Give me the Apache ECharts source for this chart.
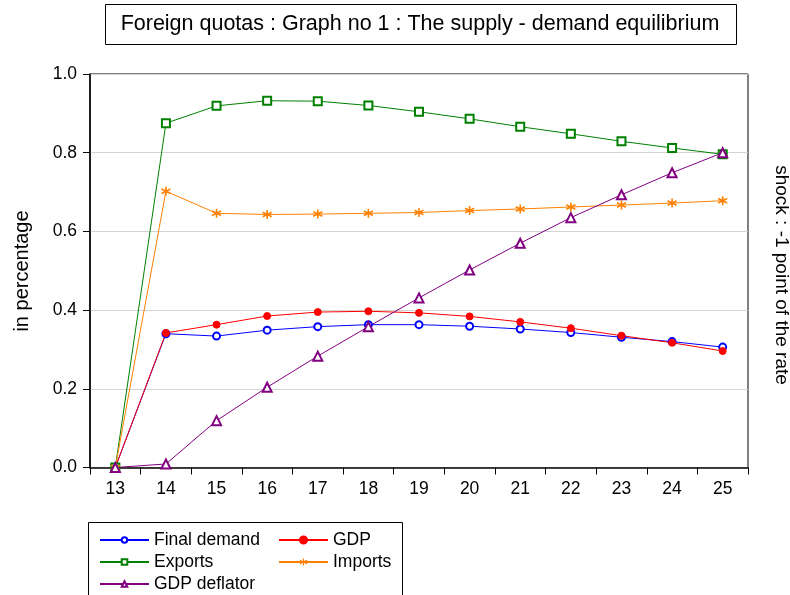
<!DOCTYPE html>
<html>
<head>
<meta charset="utf-8">
<script src="https://cdn.jsdelivr.net/npm/echarts@6/dist/echarts.min.js"></script>
<style>
  html, body { margin: 0; padding: 0; background: #fff; }
  #chart { width: 790px; height: 595px; }
</style>
</head>
<body>
<div id="chart"></div>
<script>
// periods
const years = ['13', '14', '15', '16', '17', '18', '19', '20', '21', '22', '23', '24', '25']

// series values
const finalDemand = [0, 0.340, 0.334, 0.349, 0.358, 0.363, 0.363, 0.359, 0.352, 0.343, 0.331, 0.320, 0.306]
const gdp = [0, 0.342, 0.363, 0.385, 0.395, 0.397, 0.393, 0.384, 0.370, 0.354, 0.335, 0.317, 0.296]
const exportsVals = [0, 0.875, 0.919, 0.932, 0.931, 0.920, 0.904, 0.886, 0.866, 0.848, 0.829, 0.812, 0.796]
const importsVals = [0, 0.702, 0.646, 0.643, 0.644, 0.646, 0.648, 0.653, 0.657, 0.662, 0.667, 0.672, 0.678]
const gdpDeflator = [0, 0.009, 0.119, 0.204, 0.283, 0.358, 0.431, 0.502, 0.570, 0.635, 0.693, 0.749, 0.800]

const FONT = '"Liberation Sans", Arial, sans-serif'

// asterisk marker for imports
const asterisk = 'path://M5,0L5,10M0.7,2.5L9.3,7.5M0.7,7.5L9.3,2.5'

const chart = echarts.init(document.getElementById('chart'), null, { renderer: 'canvas' })

const mkLine = (name, data, color, symbol, size, extra) => Object.assign({
  name,
  type: 'line',
  data,
  symbol,
  symbolSize: size,
  showAllSymbol: true,
  lineStyle: { width: 1, color },
  itemStyle: { color, borderColor: color, borderWidth: 1 },
  emphasis: { disabled: true },
  animation: false
}, extra || {})

const legendBase = {
  orient: 'vertical',
  top: 531,
  height: 80,
  padding: 0,
  itemWidth: 49,
  itemHeight: 7,
  itemGap: 4,
  selectedMode: false,
  textStyle: { fontSize: 17.5, color: '#000', fontFamily: FONT }
}

const option = {
  animation: false,
  textStyle: { fontFamily: FONT },
  grid: { left: 90, right: 42, top: 74, bottom: 127.5, show: true, borderColor: '#000', borderWidth: 1 },
  xAxis: {
    type: 'category',
    data: years,
    boundaryGap: true,
    axisLine: { lineStyle: { color: '#000', width: 1.5 } },
    axisTick: { show: true, length: 7, lineStyle: { color: '#000' } },
    axisLabel: { color: '#000', fontSize: 17.5, fontFamily: FONT, margin: 13 },
    splitLine: { show: false }
  },
  yAxis: {
    type: 'value',
    min: 0,
    max: 1,
    interval: 0.2,
    axisLine: { show: true, lineStyle: { color: '#000', width: 1.5 } },
    axisTick: { show: true, length: 7, lineStyle: { color: '#000' } },
    axisLabel: { color: '#000', fontSize: 17.5, fontFamily: FONT, margin: 13, formatter: v => v.toFixed(1) },
    splitLine: { show: true, lineStyle: { color: '#d4d4d4', width: 1 } }
  },
  legend: [
    Object.assign({}, legendBase, { left: 99, data: ['Final demand', 'Exports', 'GDP deflator'] }),
    Object.assign({}, legendBase, {
      left: 278,
      itemHeight: 9,
      data: ['GDP', { name: 'Imports', itemStyle: { color: '#ff8000', borderColor: '#ff8000', borderWidth: 1.2 } }]
    })
  ],
  graphic: [
    {
      type: 'rect',
      shape: { x: 105.5, y: 4.5, width: 631, height: 40 },
      style: { fill: '#fff', stroke: '#000', lineWidth: 1 },
      z: 1
    },
    {
      type: 'text',
      x: 420,
      y: 24,
      style: { text: 'Foreign quotas : Graph no 1 : The supply - demand equilibrium', fill: '#000', font: '21.5px ' + FONT, align: 'center', verticalAlign: 'middle' },
      z: 2
    },
    {
      type: 'rect',
      shape: { x: 88.5, y: 522.5, width: 314, height: 80 },
      style: { fill: '#fff', stroke: '#000', lineWidth: 1 },
      z: -1
    },
    {
      type: 'text',
      x: 22,
      y: 271,
      rotation: Math.PI / 2,
      style: { text: 'in percentage', fill: '#000', font: '20px ' + FONT, align: 'center', verticalAlign: 'middle' }
    },
    {
      type: 'text',
      x: 781,
      y: 275,
      rotation: -Math.PI / 2,
      style: { text: 'shock : -1 point of the rate', fill: '#000', font: '19px ' + FONT, align: 'center', verticalAlign: 'middle' }
    }
  ],
  series: [
    mkLine('Final demand', finalDemand, '#0000ff', 'emptyCircle', 7),
    mkLine('GDP', gdp, '#ff0000', 'circle', 7),
    mkLine('Exports', exportsVals, '#008000', 'emptyRect', 8),
    mkLine('Imports', importsVals, '#ff8000', asterisk, 9, {
      itemStyle: { color: '#ff8000', borderColor: '#ff8000', borderWidth: 1.6 }
    }),
    mkLine('GDP deflator', gdpDeflator, '#800080', 'emptyTriangle', 9)
  ]
}

chart.setOption(option)
</script>
</body>
</html>
